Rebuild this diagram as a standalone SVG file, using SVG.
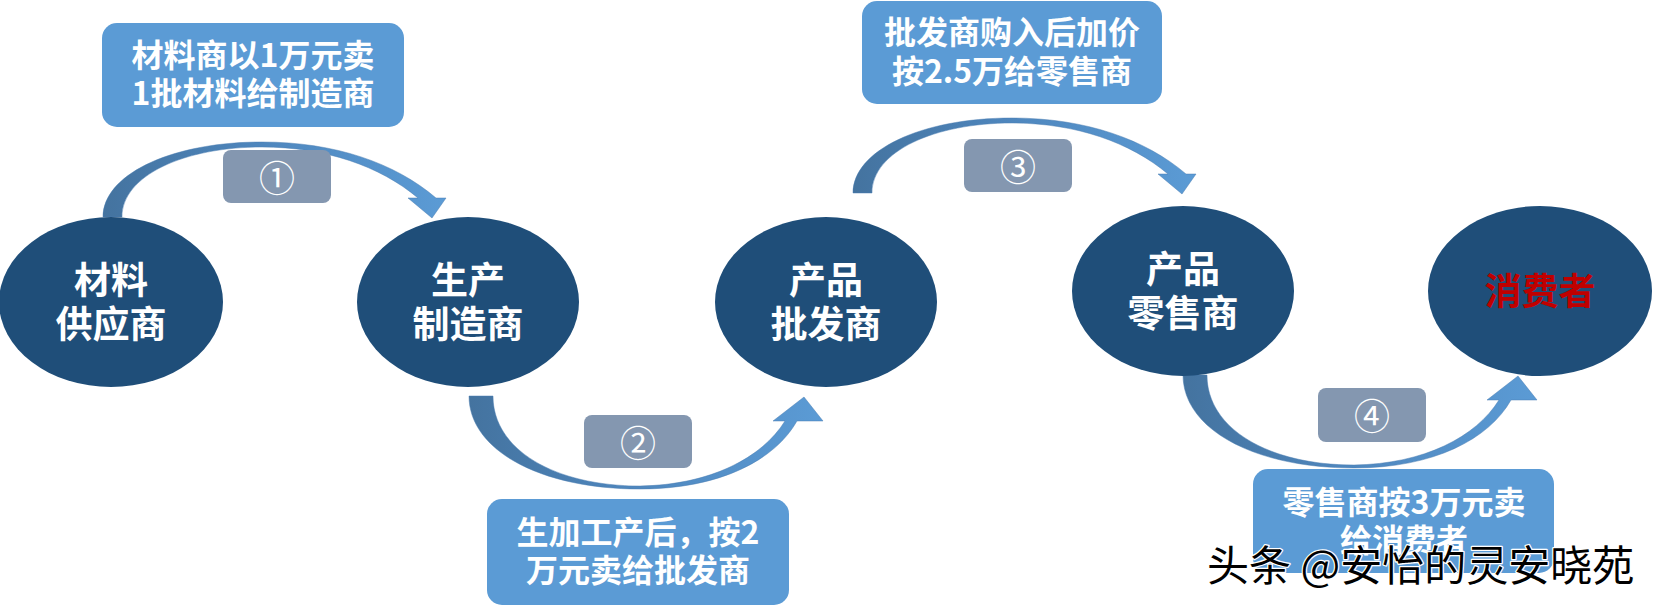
<svg xmlns="http://www.w3.org/2000/svg" xmlns:xlink="http://www.w3.org/1999/xlink" width="1653" height="605" viewBox="0 0 1653 605">
<defs>
<style>
.node{fill:#1F4E79}
.ntext{font-family:"Noto Sans CJK SC","Noto Sans",sans-serif;font-weight:700;font-size:37px;fill:#fff;text-anchor:middle}
.box{fill:#5B9BD5}
.btext{font-family:"Noto Sans CJK SC","Noto Sans",sans-serif;font-weight:700;font-size:32px;fill:#fff;text-anchor:middle}
.badge{fill:#8497B0}
.bnum{font-family:"Noto Sans CJK SC","DejaVu Sans",sans-serif;font-weight:400;font-size:36px;fill:#fff;text-anchor:middle}
.arc{fill:url(#arcGrad);stroke:#4A7DB0;stroke-width:0.8;stroke-opacity:0.6}
.wm{font-family:"Noto Sans CJK SC","Noto Sans",sans-serif;font-weight:400;font-size:42px;fill:#000;stroke:#fff;stroke-width:2.5;paint-order:stroke;stroke-linejoin:round}
</style>
<linearGradient id="arcGrad" x1="0" y1="0" x2="1" y2="0">
<stop offset="0" stop-color="#44739F"/>
<stop offset="0.45" stop-color="#4E86BD"/>
<stop offset="1" stop-color="#5B9BD5"/>
</linearGradient>
<path id="arcUp" d="M103,217 C103,175 170,142 262,142 C335,142 395,163 436,198 L446,198 L432,218 L408,198 L418,198 C380,166 325,147 262,147 C185,147 122,175 122,217 Z"/>
<path id="arcDown" d="M469,396 C469,450 540,489 640,489 C720,489 775,460 797,421 L823,421 L804,397 L773,421 L785,421 C762,458 710,485 640,486 C555,486 493,450 493,396 Z"/>
</defs>
<rect width="1653" height="605" fill="#fff"/>

<g id="connectors">
<use xlink:href="#arcUp" class="arc"/>
<use xlink:href="#arcDown" class="arc"/>
<use xlink:href="#arcUp" class="arc" transform="translate(750,-24)"/>
<use xlink:href="#arcDown" class="arc" transform="translate(714,-21)"/>
</g>

<g id="badge1"><rect class="badge" x="223" y="150" width="108" height="53" rx="8"/><text class="bnum" x="277" y="192">①</text></g>
<g id="badge2"><rect class="badge" x="584" y="415" width="108" height="53" rx="8"/><text class="bnum" x="638" y="457">②</text></g>
<g id="badge3"><rect class="badge" x="964" y="139" width="108" height="53" rx="8"/><text class="bnum" x="1018" y="181">③</text></g>
<g id="badge4"><rect class="badge" x="1318" y="388" width="108" height="54" rx="8"/><text class="bnum" x="1372" y="430">④</text></g>

<g id="node-supplier"><ellipse class="node" cx="111" cy="302" rx="112" ry="85"/><text class="ntext" x="111" y="294">材料</text><text class="ntext" x="111" y="338">供应商</text></g>
<g id="node-manufacturer"><ellipse class="node" cx="468" cy="302" rx="111" ry="85"/><text class="ntext" x="468" y="294">生产</text><text class="ntext" x="468" y="338">制造商</text></g>
<g id="node-wholesaler"><ellipse class="node" cx="826" cy="302" rx="111" ry="85"/><text class="ntext" x="826" y="294">产品</text><text class="ntext" x="826" y="338">批发商</text></g>
<g id="node-retailer"><ellipse class="node" cx="1183" cy="291" rx="111" ry="85"/><text class="ntext" x="1183" y="283">产品</text><text class="ntext" x="1183" y="327">零售商</text></g>
<g id="node-consumer"><ellipse class="node" cx="1540" cy="291" rx="112" ry="85"/><text class="ntext" x="1540" y="305" style="fill:#C00000">消费者</text></g>

<g id="label1"><rect class="box" x="102" y="23" width="302" height="104" rx="15"/><text class="btext" x="253" y="67">材料商以1万元卖</text><text class="btext" x="253" y="105">1批材料给制造商</text></g>
<g id="label2"><rect class="box" x="487" y="499" width="302" height="106" rx="15"/><text class="btext" x="638" y="544">生加工产后，按2</text><text class="btext" x="638" y="582">万元卖给批发商</text></g>
<g id="label3"><rect class="box" x="862" y="1" width="300" height="103" rx="15"/><text class="btext" x="1012" y="44">批发商购入后加价</text><text class="btext" x="1012" y="83">按2.5万给零售商</text></g>
<g id="label4"><rect class="box" x="1253" y="469" width="301" height="104" rx="15"/><text class="btext" x="1404" y="514">零售商按3万元卖</text><text class="btext" x="1404" y="552">给消费者</text></g>

<text class="wm" x="1207" y="581">头条 @安怡的灵安晓苑</text>
</svg>
